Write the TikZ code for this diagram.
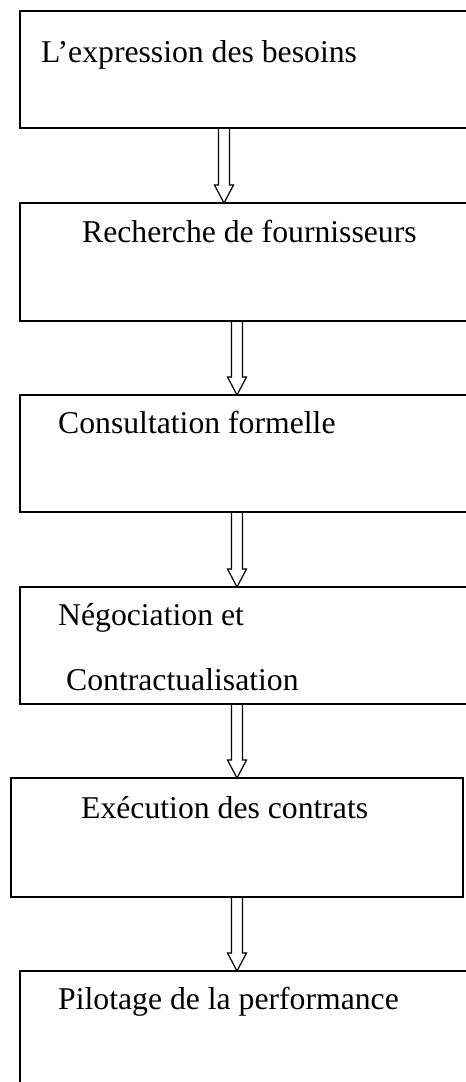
\documentclass[tikz,border=0pt]{standalone}
\usepackage{fontspec}
\setmainfont{Liberation Serif}
\usetikzlibrary{calc,positioning}

\begin{document}
\begin{tikzpicture}[x=1pt,y=-1pt,
  box/.style={draw,rectangle,line width=1.8pt,outer sep=0pt,inner sep=0pt,anchor=north west,minimum width=450pt},
  lbl/.style={inner sep=0pt,anchor=base west,font=\fontsize{31.7}{38}\selectfont},
  blockarrow/.style={line width=1.2pt,to path={let \p1=(\tikztostart), \p2=(\tikztotarget) in
    (\x1-5.5pt,\y1) -- (\x1-5.5pt,\y2+18pt) -- (\x1-9.5pt,\y2+18pt) -- (\x2,\y2)
    -- (\x1+9.5pt,\y2+18pt) -- (\x1+5.5pt,\y2+18pt) -- (\x1+5.5pt,\y1)}}]

\useasboundingbox (0,0) rectangle (466,1082);

        % the six steps
        \node[box,minimum height=117pt] (B1) at (20,11) {};
        \node[box,minimum height=118pt] (B2) at (20,203) {};
        \node[box,minimum height=117pt] (B3) at (20,395) {};
        \node[box,minimum height=117pt] (B4) at (20,587) {};
        \node[box,minimum height=119pt,minimum width=452pt] (B5) at (11,778) {};
        \node[box,minimum height=119pt] (B6) at (20,971) {};

        \node[lbl] (T1) at (41,62) {L’expression des besoins};
        \node[lbl] (T2) at (82,242) {Recherche de fournisseurs};
        \node[lbl] (T3) at (58,433) {Consultation formelle};
        \node[lbl] (T4) at (58,625) {Négociation et};
        \node[lbl] (T4b) at (66,690) {Contractualisation};
        \node[lbl] (T5) at (81,818) {Exécution des contrats};
        \node[lbl] (T6) at (58,1009) {Pilotage de la performance};

        % hollow arrows
        \coordinate (A1) at (224,0);
        \coordinate (A2) at (237,0);
        \draw[blockarrow] (B1.south -| A1) to (B2.north -| A1);
        \draw[blockarrow] (B2.south -| A2) to (B3.north -| A2);
        \draw[blockarrow] (B3.south -| A2) to (B4.north -| A2);
        \draw[blockarrow] (B4.south -| A2) to (B5.north -| A2);
        \draw[blockarrow] (B5.south -| A2) to (B6.north -| A2);
      \end{tikzpicture}
\end{document}
